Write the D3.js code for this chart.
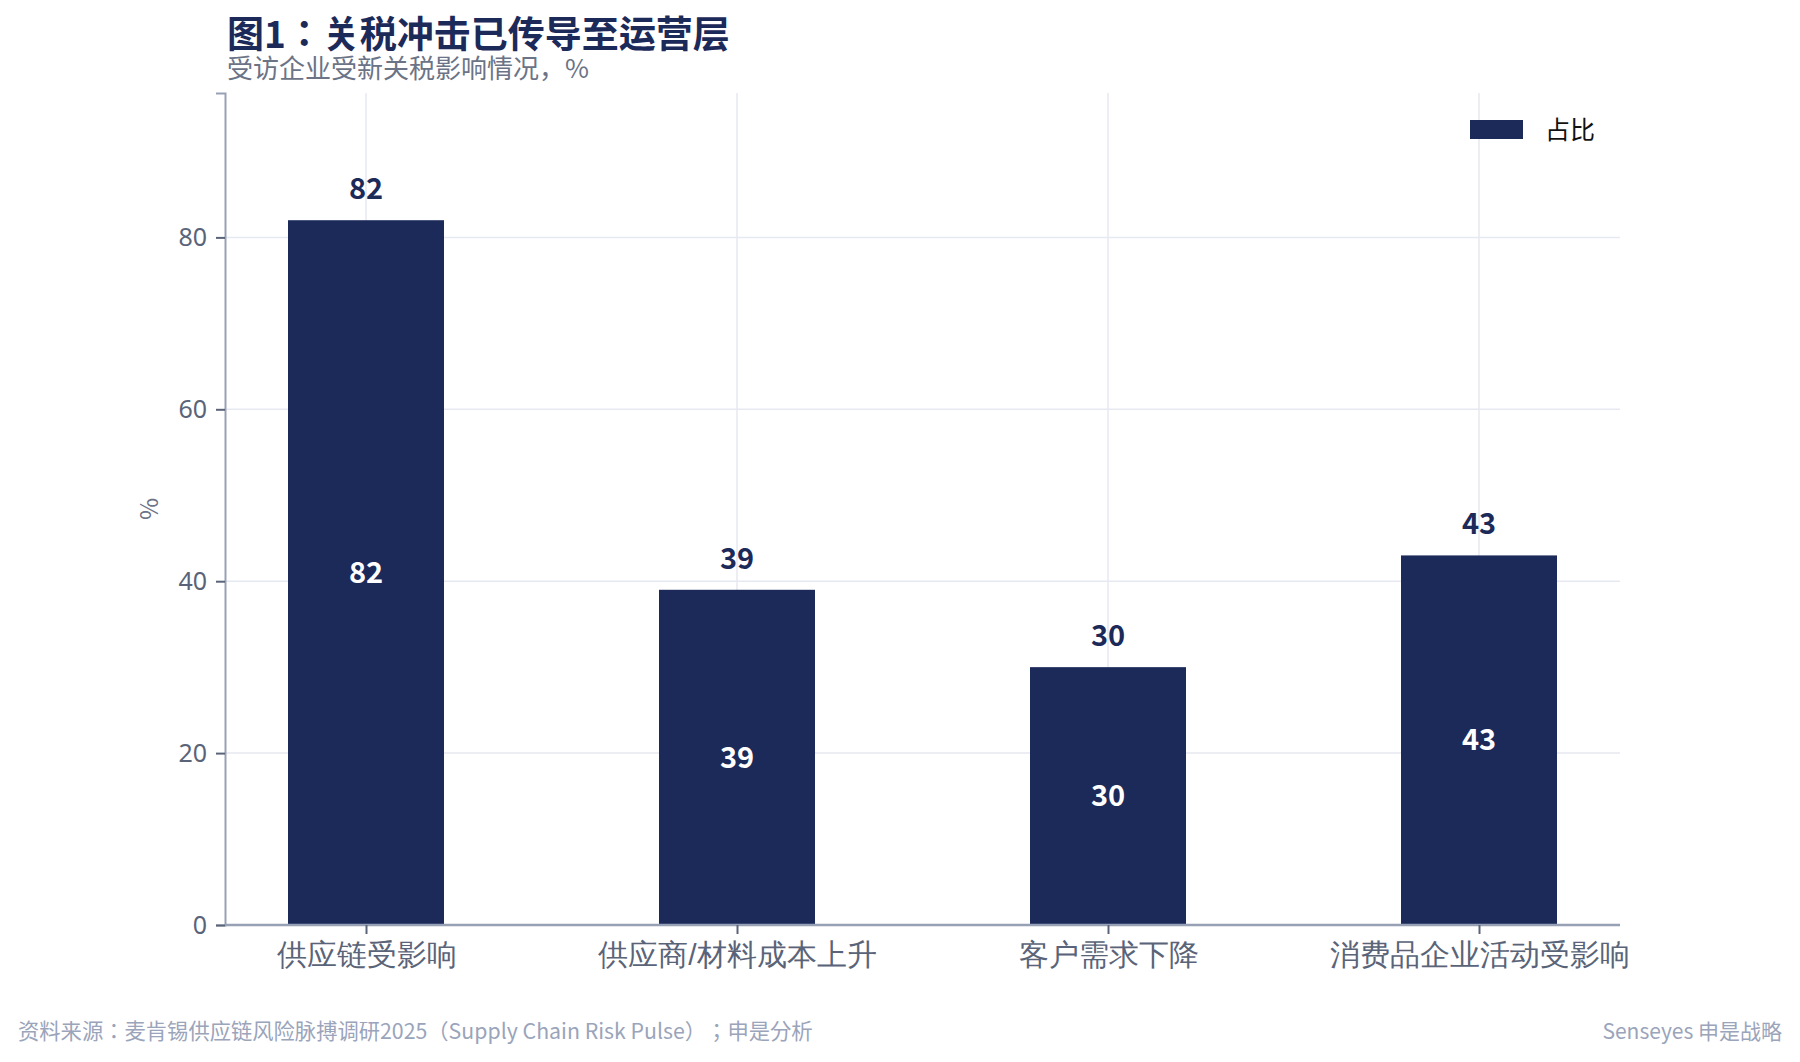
<!DOCTYPE html>
<html>
<head>
<meta charset="utf-8">
<script src="https://cdn.jsdelivr.net/npm/d3@7"></script>
<style>
  body { margin: 0; background: #fff; }
  svg { display: block; font-family: "Noto Sans CJK SC", "Noto Sans", sans-serif; text-spacing-trim: space-all; }
</style>
</head>
<body>
<svg id="chart"></svg>
<script>
const categories = ["供应链受影响", "供应商/材料成本上升", "客户需求下降", "消费品企业活动受影响"];
const shares = [82, 39, 30, 43];
const yTicks = [0, 20, 40, 60, 80];
const seriesName = "占比";

const width = 1800, height = 1062;
const margin = { top: 93, right: 180, bottom: 137, left: 225 };
const NAVY = "#1c2a5a";
// JP cut centres the full-width colon / semicolon like the original
const PUNCT_FONT = "'Noto Sans CJK JP', 'Noto Sans CJK SC', sans-serif";

const svg = d3.select("#chart").attr("width", width).attr("height", height);

const plotW = width - margin.left - margin.right;
const plotH = height - margin.top - margin.bottom;

// category centres sit a little off the band layout, so use a point scale inset into the plot
const x = d3.scalePoint().domain(categories).range([141, 1254]);
const barW = 156;
const y = d3.scaleLinear().domain([0, 96.8]).range([plotH, 0]);

const g = svg.append("g").attr("transform", `translate(${margin.left},${margin.top})`);

// grid
g.append("g").selectAll("line")
  .data(yTicks.filter(d => d > 0))
  .join("line")
  .attr("x1", 0).attr("x2", plotW)
  .attr("y1", d => y(d)).attr("y2", d => y(d))
  .attr("stroke", "#e6e9f1").attr("stroke-width", 1.5);
g.append("g").selectAll("line")
  .data(categories)
  .join("line")
  .attr("x1", d => x(d)).attr("x2", d => x(d))
  .attr("y1", 0).attr("y2", plotH)
  .attr("stroke", "#e6e9f1").attr("stroke-width", 1.5);

// bars
g.selectAll("rect.bar")
  .data(shares)
  .join("rect")
  .attr("class", "bar")
  .attr("x", (d, i) => x(categories[i]) - barW / 2)
  .attr("width", barW)
  .attr("y", d => y(d))
  .attr("height", d => y(0) - y(d))
  .attr("fill", NAVY);

// labels above bars
g.selectAll("text.top")
  .data(shares)
  .join("text")
  .attr("class", "top")
  .attr("x", (d, i) => x(categories[i]))
  .attr("y", d => y(d) - 21)
  .attr("text-anchor", "middle")
  .attr("fill", NAVY)
  .style("font-size", "29px")
  .style("font-weight", "700")
  .text(d => d);

// labels inside bars
g.selectAll("text.inner")
  .data(shares)
  .join("text")
  .attr("class", "inner")
  .attr("x", (d, i) => x(categories[i]))
  .attr("y", d => y(d / 2))
  .attr("dy", "0.35em")
  .attr("text-anchor", "middle")
  .attr("fill", "#fff")
  .style("font-size", "29px")
  .style("font-weight", "700")
  .text(d => d);

// axes
const yAxis = g.append("g")
  .call(d3.axisLeft(y).tickValues(yTicks).tickSize(9).tickPadding(9));
yAxis.select(".domain").attr("stroke", "#97a1b6").attr("stroke-width", 2);
yAxis.selectAll(".tick line").attr("stroke", "#5a6478").attr("stroke-width", 2);
yAxis.selectAll(".tick text").attr("fill", "#5a6478").style("font-size", "25px")
  .style("font-family", "'Noto Sans', 'Noto Sans CJK SC', sans-serif");

const xAxis = g.append("g")
  .attr("transform", `translate(0,${plotH})`)
  .call(d3.axisBottom(x).tickSize(9).tickPadding(10).tickSizeOuter(0));
xAxis.select(".domain").attr("d", `M0,0H${plotW}`).attr("stroke", "#97a1b6").attr("stroke-width", 2.5);
xAxis.selectAll(".tick line").attr("stroke", "#5a6478").attr("stroke-width", 2);
xAxis.selectAll(".tick text").attr("fill", "#5a6478").style("font-size", "30px");

// y axis title
g.append("text")
  .attr("transform", `translate(${150 - margin.left},${plotH / 2}) rotate(-90)`)
  .attr("text-anchor", "middle")
  .attr("dy", "0.35em")
  .attr("fill", "#6b7386")
  .style("font-size", "24px")
  .text("%");

// legend
const legend = svg.append("g").attr("transform", "translate(1470,120)");
legend.append("rect").attr("width", 53).attr("height", 19).attr("fill", NAVY);
legend.append("text")
  .attr("x", 75).attr("y", 10).attr("dy", "0.35em")
  .attr("fill", "#111")
  .style("font-size", "25px")
  .text(seriesName);

// titles
svg.append("text")
  .attr("x", 227).attr("y", 48)
  .attr("fill", NAVY)
  .style("font-family", PUNCT_FONT)
  .style("font-size", "37px")
  .style("font-weight", "700")
  .text("图1：关税冲击已传导至运营层");
svg.append("text")
  .attr("x", 227).attr("y", 78)
  .attr("fill", "#6b7386")
  .style("font-size", "26px")
  .text("受访企业受新关税影响情况，%");

// footer
svg.append("text")
  .attr("x", 18).attr("y", 1039)
  .attr("fill", "#9aa4ba")
  .style("font-family", PUNCT_FONT)
  .style("font-size", "21.3px")
  .text("资料来源：麦肯锡供应链风险脉搏调研2025（Supply Chain Risk Pulse）；申是分析");
svg.append("text")
  .attr("x", 1782).attr("y", 1039)
  .attr("text-anchor", "end")
  .attr("fill", "#9aa4ba")
  .style("font-size", "21px")
  .text("Senseyes 申是战略");
</script>
</body>
</html>
